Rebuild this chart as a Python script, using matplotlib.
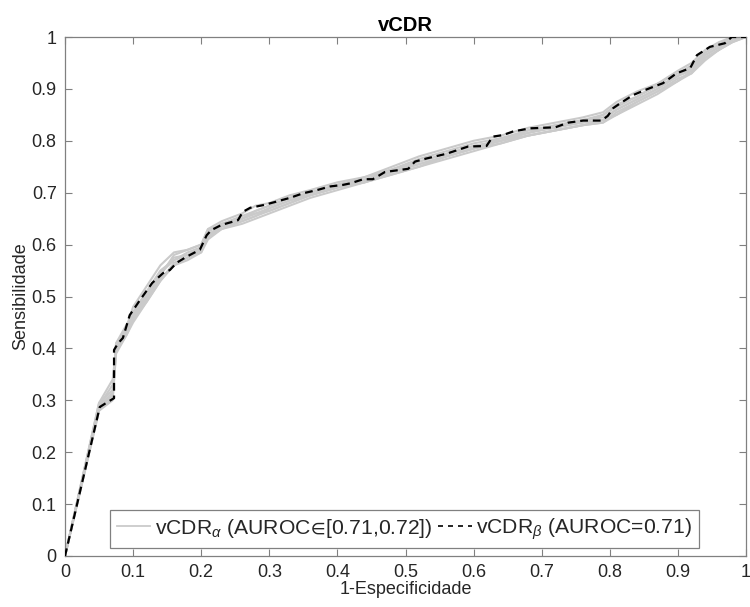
import matplotlib
matplotlib.use("Agg")
import matplotlib.pyplot as plt
from matplotlib.lines import Line2D

plt.rcParams['font.family'] = ['Liberation Sans', 'DejaVu Sans']
plt.rcParams['mathtext.fontset'] = 'custom'
plt.rcParams['mathtext.rm'] = 'Liberation Sans'
plt.rcParams['mathtext.it'] = 'Liberation Sans:italic'
plt.rcParams['mathtext.bf'] = 'Liberation Sans:bold'
plt.rcParams['mathtext.fallback'] = 'stixsans'

# black dashed curve (vCDR_beta)
beta_fpr = [0.0, 0.051, 0.063, 0.072, 0.072, 0.078, 0.085, 0.095, 0.110, 0.128, 0.144,
            0.154, 0.164, 0.179, 0.198, 0.208, 0.215, 0.230, 0.254, 0.261, 0.272, 0.291,
            0.311, 0.330, 0.350, 0.370, 0.389, 0.408, 0.419, 0.438, 0.452, 0.470, 0.504,
            0.514, 0.531, 0.560, 0.592, 0.619, 0.628, 0.643, 0.658, 0.683, 0.720, 0.739,
            0.761, 0.788, 0.797, 0.805, 0.815, 0.834, 0.854, 0.878, 0.898, 0.918, 0.928,
            0.947, 0.969, 0.979, 1.0]
beta_tpr = [0.0, 0.287, 0.297, 0.304, 0.397, 0.410, 0.420, 0.464, 0.493, 0.526, 0.545,
            0.551, 0.565, 0.577, 0.590, 0.618, 0.628, 0.638, 0.647, 0.663, 0.671, 0.676,
            0.683, 0.690, 0.699, 0.705, 0.712, 0.715, 0.718, 0.726, 0.726, 0.740, 0.746,
            0.760, 0.766, 0.775, 0.789, 0.790, 0.808, 0.811, 0.818, 0.824, 0.826, 0.835,
            0.839, 0.839, 0.848, 0.863, 0.872, 0.888, 0.899, 0.911, 0.930, 0.940, 0.965,
            0.981, 0.988, 1.0, 1.0]

# gray curves (vCDR_alpha), read approximately
alpha_fpr = [0, 0.05, 0.07, 0.075, 0.09, 0.1, 0.12, 0.14, 0.16, 0.18, 0.2, 0.21, 0.23,
             0.26, 0.28, 0.3, 0.33, 0.36, 0.4, 0.44, 0.48, 0.52, 0.56, 0.6, 0.64, 0.68,
             0.72, 0.76, 0.79, 0.81, 0.84, 0.87, 0.9, 0.92, 0.94, 0.96, 0.98, 1.0]
alpha_tpr_1 = [0, 0.29, 0.31, 0.40, 0.44, 0.47, 0.51, 0.55, 0.57, 0.585, 0.595, 0.625, 0.64, 0.655, 0.665, 0.675, 0.69, 0.70, 0.715, 0.725, 0.74, 0.755, 0.77, 0.785, 0.80, 0.815, 0.83, 0.835, 0.84, 0.86, 0.88, 0.90, 0.925, 0.935, 0.965, 0.98, 0.995, 1.0]
alpha_tpr_2 = [0, 0.295, 0.32, 0.41, 0.435, 0.46, 0.50, 0.54, 0.58, 0.59, 0.60, 0.63, 0.635, 0.645, 0.655, 0.67, 0.685, 0.695, 0.71, 0.72, 0.735, 0.75, 0.765, 0.78, 0.795, 0.81, 0.82, 0.83, 0.835, 0.855, 0.875, 0.895, 0.92, 0.93, 0.96, 0.975, 0.99, 1.0]
alpha_tpr_3 = [0, 0.28, 0.30, 0.39, 0.425, 0.45, 0.49, 0.53, 0.565, 0.575, 0.59, 0.615, 0.635, 0.65, 0.66, 0.665, 0.68, 0.695, 0.71, 0.725, 0.745, 0.765, 0.78, 0.795, 0.805, 0.815, 0.825, 0.84, 0.85, 0.87, 0.885, 0.91, 0.93, 0.945, 0.97, 0.985, 1.0, 1.0]
alpha_tpr_4 = [0, 0.29, 0.33, 0.405, 0.44, 0.48, 0.52, 0.56, 0.585, 0.59, 0.60, 0.63, 0.645, 0.66, 0.675, 0.68, 0.695, 0.705, 0.72, 0.73, 0.75, 0.77, 0.785, 0.80, 0.81, 0.825, 0.835, 0.845, 0.855, 0.875, 0.895, 0.91, 0.935, 0.95, 0.975, 0.99, 1.0, 1.0]
alpha_tpr_5 = [0, 0.285, 0.31, 0.395, 0.43, 0.455, 0.495, 0.535, 0.56, 0.57, 0.585, 0.61, 0.63, 0.64, 0.65, 0.66, 0.675, 0.69, 0.705, 0.72, 0.74, 0.76, 0.775, 0.79, 0.80, 0.81, 0.82, 0.83, 0.84, 0.85, 0.87, 0.89, 0.915, 0.93, 0.955, 0.975, 0.99, 1.0]
alpha_tpr_6 = [0, 0.29, 0.315, 0.41, 0.445, 0.465, 0.505, 0.545, 0.575, 0.58, 0.595, 0.625, 0.64, 0.65, 0.66, 0.67, 0.685, 0.70, 0.715, 0.73, 0.745, 0.76, 0.775, 0.79, 0.80, 0.82, 0.83, 0.84, 0.845, 0.86, 0.88, 0.90, 0.925, 0.94, 0.965, 0.98, 0.995, 1.0]
alpha_tpr_7 = [0, 0.295, 0.34, 0.40, 0.435, 0.46, 0.50, 0.545, 0.57, 0.58, 0.59, 0.62, 0.635, 0.65, 0.665, 0.675, 0.69, 0.70, 0.715, 0.725, 0.74, 0.755, 0.77, 0.785, 0.805, 0.82, 0.825, 0.835, 0.85, 0.865, 0.885, 0.905, 0.925, 0.94, 0.97, 0.985, 1.0, 1.0]
alpha_tpr_8 = [0, 0.28, 0.305, 0.395, 0.425, 0.455, 0.49, 0.53, 0.56, 0.575, 0.585, 0.615, 0.63, 0.645, 0.655, 0.665, 0.68, 0.695, 0.71, 0.72, 0.735, 0.75, 0.77, 0.785, 0.795, 0.81, 0.82, 0.83, 0.835, 0.85, 0.875, 0.895, 0.915, 0.935, 0.96, 0.975, 0.995, 1.0]
alpha_series = [alpha_tpr_1, alpha_tpr_2, alpha_tpr_3, alpha_tpr_4,
                alpha_tpr_5, alpha_tpr_6, alpha_tpr_7, alpha_tpr_8]

ticks = [0, 0.1, 0.2, 0.3, 0.4, 0.5, 0.6, 0.7, 0.8, 0.9, 1]
tick_labels = ['0', '0.1', '0.2', '0.3', '0.4', '0.5', '0.6', '0.7', '0.8', '0.9', '1']

label_alpha = r'vCDR$_{\alpha}$ (AUROC$\!\in\!$[0.71,0.72])'
label_beta = r'vCDR$_{\beta}$ (AUROC=0.71)'

fig = plt.figure(figsize=(7.5, 6.07), dpi=100)
ax = fig.add_axes([65/750, 1-556/607, 681/750, 519/607])

gray = '#cacaca'
for s in alpha_series:
    ax.plot(alpha_fpr, s, color=gray, lw=1.5, zorder=2)
ax.plot(beta_fpr, beta_tpr, color='black', lw=1.6, dashes=(3.5, 2.2), zorder=3)

ax.set_xlim(0, 1)
ax.set_ylim(0, 1)
ax.set_xticks(ticks)
ax.set_xticklabels(tick_labels)
ax.set_yticks(ticks)
ax.set_yticklabels(tick_labels)

spine_c = '#808080'
for sp in ax.spines.values():
    sp.set_color(spine_c)
    sp.set_linewidth(0.9)
ax.tick_params(direction='in', length=5, width=0.8, color=spine_c,
               top=True, right=True, labelsize=13, labelcolor='#262626', pad=6)

ax.set_title('vCDR', fontsize=14.5, fontweight='bold', color='black', pad=4)
ax.set_xlabel('1-Especificidade', fontsize=13, color='#262626', labelpad=0)
ax.set_ylabel('Sensibilidade', fontsize=13, color='#262626', labelpad=2)

handles = [Line2D([], [], color=gray, lw=1.3),
           Line2D([], [], color='black', lw=1.2, dashes=(3.0, 3.0))]
leg = ax.legend(handles, [label_alpha, label_beta], ncol=2, loc='lower center',
                bbox_to_anchor=(0.4985, 0.015), borderaxespad=0, fontsize=15.2,
                fancybox=False, framealpha=1, edgecolor='#808080',
                handlelength=1.6, handletextpad=0.2, columnspacing=0.3,
                borderpad=0.3)
leg.get_frame().set_linewidth(0.9)
for t in leg.get_texts():
    t.set_color('#262626')

fig.savefig('out.png', dpi=100)
